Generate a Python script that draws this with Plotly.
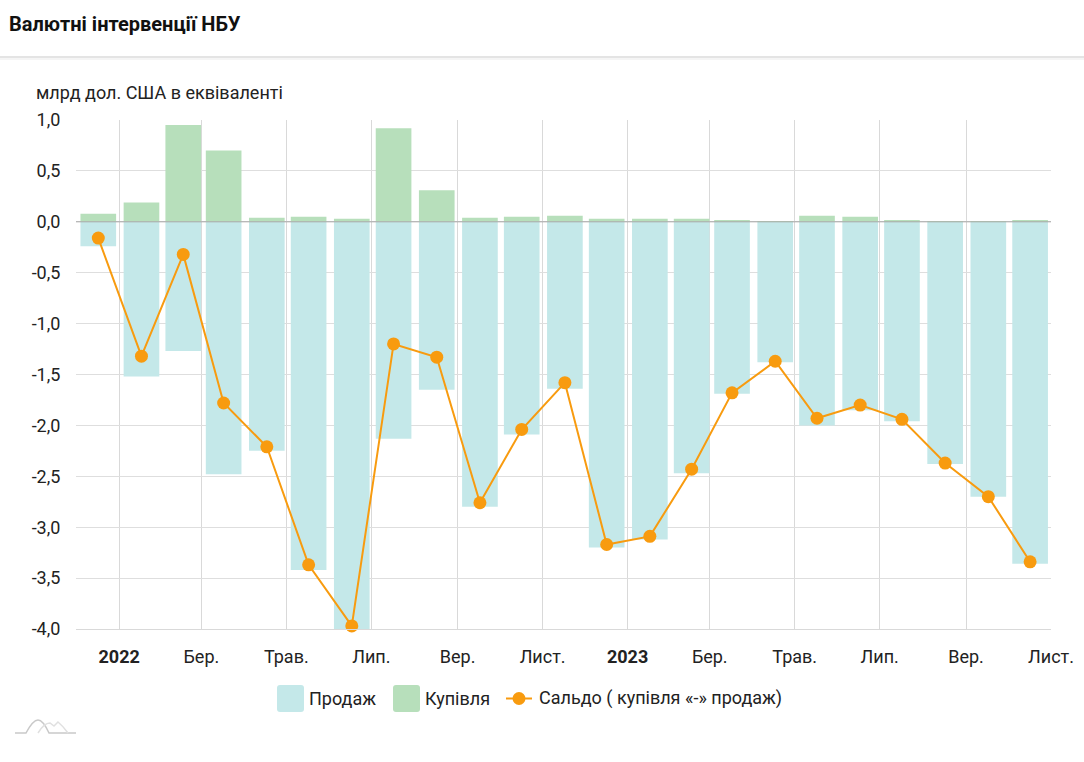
import plotly.graph_objects as go

months = ["2021-12-17","2022-01-17","2022-02-16","2022-03-17","2022-04-17","2022-05-17","2022-06-17","2022-07-17",
          "2022-08-17","2022-09-17","2022-10-17","2022-11-17","2022-12-17","2023-01-17","2023-02-16","2023-03-17",
          "2023-04-17","2023-05-17","2023-06-17","2023-07-17","2023-08-17","2023-09-17","2023-10-17"]
sales = [-0.24,-1.52,-1.27,-2.48,-2.25,-3.42,-4.0,-2.13,-1.65,-2.80,-2.09,-1.64,-3.20,-3.12,-2.47,-1.69,-1.38,-2.00,-1.85,-1.96,-2.38,-2.70,-3.36]
purchases = [0.08,0.19,0.95,0.70,0.04,0.05,0.03,0.92,0.31,0.04,0.05,0.06,0.03,0.03,0.03,0.01,0.005,0.06,0.05,0.015,0.005,0.005,0.015]
balance = [-0.16,-1.32,-0.32,-1.78,-2.21,-3.37,-3.97,-1.20,-1.33,-2.76,-2.04,-1.58,-3.17,-3.09,-2.43,-1.68,-1.37,-1.93,-1.80,-1.94,-2.37,-2.70,-3.34]
x_ticks = ["2022-01-01","2022-03-01","2022-05-01","2022-07-01","2022-09-01","2022-11-01","2023-01-01","2023-03-01","2023-05-01","2023-07-01","2023-09-01","2023-11-01"]
x_labels = ["<b>2022</b>","Бер.","Трав.","Лип.","Вер.","Лист.","<b>2023</b>","Бер.","Трав.","Лип.","Вер.","Лист."]
y_ticks = [1.0,0.5,0.0,-0.5,-1.0,-1.5,-2.0,-2.5,-3.0,-3.5,-4.0]
y_labels = ["1,0","0,5","0,0","-0,5","-1,0","-1,5","-2,0","-2,5","-3,0","-3,5","-4,0"]
names = ["Продаж","Купівля","Сальдо ( купівля «-» продаж)"]
title = "Валютні інтервенції НБУ"
unit = "млрд дол. США в еквіваленті"

SELL, BUY, LINE = "#c4e8e9", "#b7dfbb", "#f89b0f"
W, H = 1084, 762
L, R, T, B = 76, 1051, 120, 629
FONT = "Roboto"
BAR_MS = 25.6 * 86400000

def px(x): return (x - L) / (R - L)
def py(y): return (B - y) / (B - T)

fig = go.Figure()
fig.add_bar(x=months, y=sales, name=names[0], width=BAR_MS, marker=dict(color=SELL, line_width=0), showlegend=False)
fig.add_bar(x=months, y=purchases, name=names[1], width=BAR_MS, marker=dict(color=BUY, line_width=0), showlegend=False)
fig.add_scatter(x=months, y=balance, name=names[2], mode="lines+markers", showlegend=False, cliponaxis=False,
                line=dict(color=LINE, width=2), marker=dict(color=LINE, size=13))

def swatch(x0, x1, y0, y1, r, color):
    return dict(type="path", xref="paper", yref="paper", fillcolor=color, line_width=0,
                path=(f"M{px(x0+r)},{py(y0)} L{px(x1-r)},{py(y0)} Q{px(x1)},{py(y0)} {px(x1)},{py(y0+r)} "
                      f"L{px(x1)},{py(y1-r)} Q{px(x1)},{py(y1)} {px(x1-r)},{py(y1)} L{px(x0+r)},{py(y1)} "
                      f"Q{px(x0)},{py(y1)} {px(x0)},{py(y1-r)} L{px(x0)},{py(y0+r)} Q{px(x0)},{py(y0)} {px(x0+r)},{py(y0)} Z"))

shapes = [
    # header rule
    dict(type="rect", xref="paper", yref="paper", x0=px(0), x1=px(W), y0=py(58), y1=py(56), fillcolor="#e4e4e4", line_width=0, layer="below"),
    dict(type="rect", xref="paper", yref="paper", x0=px(0), x1=px(W), y0=py(60), y1=py(58), fillcolor="#f5f5f5", line_width=0, layer="below"),
    # zero line above bars
    dict(type="line", xref="paper", yref="y", x0=0, x1=1, y0=0, y1=0, line=dict(color="#a9a9a9", width=1), layer="above"),
    # legend swatches
    swatch(277, 304, 685, 712, 3, SELL),
    swatch(393, 420, 685, 712, 3, BUY),
    dict(type="line", xref="paper", yref="paper", x0=px(506), x1=px(532), y0=py(698.5), y1=py(698.5), line=dict(color=LINE, width=2)),
    dict(type="circle", xref="paper", yref="paper", x0=px(512.5), x1=px(525.5), y0=py(705), y1=py(692), fillcolor=LINE, line_width=0),
    # logo
    dict(type="path", xref="paper", yref="paper", line=dict(color="#c9c9c9", width=1.5),
         path=f"M{px(15)},{py(733)} L{px(26)},{py(733)} Q{px(33)},{py(720)} {px(38)},{py(720)} Q{px(43)},{py(720)} {px(49)},{py(733)} L{px(76)},{py(733)}"),
    dict(type="path", xref="paper", yref="paper", line=dict(color="#e0e0e0", width=1.5),
         path=f"M{px(38)},{py(733)} Q{px(44)},{py(723)} {px(50)},{py(723)} L{px(54)},{py(726)} L{px(58)},{py(722)} Q{px(63)},{py(726)} {px(68)},{py(733)}"),
]

def text(x, y, s, size=18, anchor="left", color="#222222"):
    return dict(xref="paper", yref="paper", x=px(x), y=py(y), text=s, showarrow=False, xanchor=anchor, yanchor="middle",
                font=dict(family=FONT, size=size, color=color))

annotations = [
    text(7, 24, f"<b>{title}</b>", size=20, color="#111111"),
    text(34, 92, unit),
    text(307, 698, names[0]),
    text(423, 698, names[1]),
    text(537, 698, names[2]),
]

fig.update_layout(
    width=W, height=H, margin=dict(l=L, r=W-R, t=T, b=H-B, pad=0, autoexpand=False),
    paper_bgcolor="white", plot_bgcolor="white", barmode="overlay", hovermode="x unified",
    font=dict(family=FONT, size=18, color="#222222"), showlegend=False,
    shapes=shapes, annotations=annotations,
    xaxis=dict(type="date", range=["2021-12-01","2023-11-01"], tickmode="array", tickvals=x_ticks, ticktext=x_labels,
               showgrid=True, gridcolor="#d9d9d9", gridwidth=1, zeroline=False, showline=True, linecolor="#d9d9d9",
               ticks="outside", ticklen=11, tickcolor="rgba(0,0,0,0)", tickangle=0),
    yaxis=dict(range=[-4,1], tickmode="array", tickvals=y_ticks, ticktext=y_labels,
               showgrid=True, gridcolor="#dedede", gridwidth=1, zeroline=False, showline=False,
               ticks="outside", ticklen=11, tickcolor="rgba(0,0,0,0)"),
)
fig.write_html("out.html", config={"displayModeBar": False},
               post_script="document.body.style.margin='0';document.documentElement.style.overflow='hidden';")
